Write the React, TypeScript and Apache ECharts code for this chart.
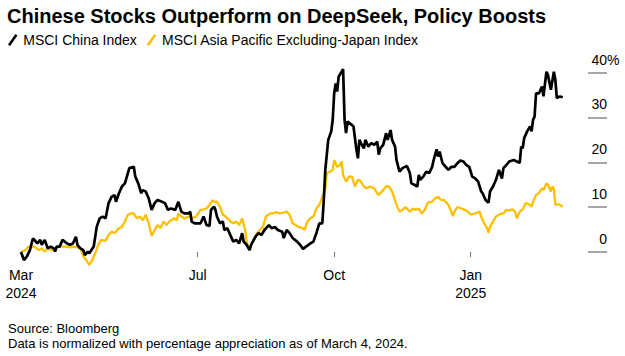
import React, { useEffect, useRef } from "react";
import * as echarts from "echarts";

const TITLE = "Chinese Stocks Outperform on DeepSeek, Policy Boosts";
const SOURCE_LINES = [
  "Source: Bloomberg",
  "Data is normalized with percentage appreciation as of March 4, 2024.",
];
const SERIES_NAMES = ["MSCI China Index", "MSCI Asia Pacific Excluding-Japan Index"];

// Days since March 4, 2024 and % appreciation
const chinaDay = [
  0, 2, 4, 6, 8, 9, 11, 13, 14, 16, 18, 20, 22, 23, 24, 26, 28, 31, 33, 35, 37, 38, 40, 42, 43, 45, 46, 49,
  51, 53, 55, 57, 59, 61, 63, 64, 66, 68, 70, 72, 73, 76, 77, 79, 81, 82, 84, 86, 88, 90, 92, 95, 97, 99,
  101, 104, 106, 108, 110, 113, 114, 115, 117, 121, 123, 125, 127, 128, 130, 131, 132, 134, 136, 137, 139,
  141, 143, 145, 147, 149, 150, 152, 154, 155, 158, 160, 162, 164, 167, 169, 171, 173, 176, 177, 179, 181,
  183, 186, 188, 190, 192, 195, 197, 199, 201, 203, 204, 205, 207, 209, 210, 211, 212, 213, 214, 216, 217,
  218, 219, 220, 223, 224, 226, 227, 228, 229, 231, 232, 234, 236, 238, 240, 241, 242, 244, 246, 247, 249,
  250, 252, 253, 255, 257, 260, 262, 263, 265, 267, 268, 269, 271, 273, 275, 277, 278, 280, 281, 282, 284,
  285, 288, 290, 292, 294, 296, 298, 300, 302, 304, 306, 308, 310, 311, 313, 315, 316, 318, 320, 322, 324,
  325, 327, 329, 332, 334, 336, 337, 338, 339, 341, 343, 344, 345, 346, 347, 349, 351, 352, 354, 355, 357,
  359, 360, 361, 363, 365,
];
const chinaPct = [
  0, -1.8, -1.0, 0.4, 3.0, 2.7, 1.9, 2.7, 1.6, 2.7, 0.8, 1.2, 0.8, 0.1, 1.2, 1.2, 2.7, 1.9, 1.6, 1.9, 3.4,
  1.6, 0.8, 0.4, -0.7, 0.1, -0.3, 1.2, 5.6, 7.5, 7.9, 7.5, 10.9, 12.3, 12.7, 11.2, 13.1, 14.6, 15.3, 17.6,
  18.7, 19.0, 16.8, 15.3, 13.1, 13.8, 13.5, 12.0, 9.4, 10.9, 11.6, 11.2, 10.9, 9.4, 9.7, 9.4, 11.2, 9.0,
  8.6, 8.6, 9.0, 6.8, 6.4, 6.4, 7.9, 6.0, 5.8, 9.4, 10.1, 9.4, 7.9, 6.4, 6.8, 4.9, 5.3, 3.8, 2.3, 2.7, 1.9,
  4.2, 2.3, 1.6, 0.4, 1.6, 3.4, 4.2, 3.8, 4.9, 6.0, 5.3, 5.6, 4.9, 4.5, 3.1, 4.9, 4.2, 3.1, 2.3, 1.6, 0.7,
  1.2, 1.9, 2.3, 4.2, 6.4, 6.4, 11.6, 18.3, 25.0, 26.9, 29.5, 35.4, 37.6, 35.8, 39.1, 40.2, 40.8, 29.5,
  26.5, 29.1, 28.3, 28.0, 22.8, 20.9, 25.0, 24.3, 23.1, 25.0, 23.5, 24.3, 23.9, 24.6, 21.7, 23.1, 23.9,
  26.5, 25.0, 27.2, 25.0, 23.5, 20.5, 17.9, 18.7, 19.2, 17.6, 15.3, 15.0, 14.6, 17.2, 16.1, 16.8, 17.9,
  17.6, 19.0, 20.5, 22.9, 21.3, 22.4, 19.8, 19.4, 18.3, 19.0, 19.0, 19.8, 20.4, 20.2, 19.4, 19.0, 16.8,
  16.4, 15.7, 13.5, 13.1, 11.6, 11.0, 13.5, 14.6, 16.1, 18.3, 16.4, 18.7, 19.4, 20.2, 20.5, 20.2, 19.9,
  23.5, 23.1, 25.4, 26.9, 28.0, 26.9, 29.5, 30.2, 35.4, 35.4, 36.9, 34.7, 40.2, 39.5, 36.2, 40.2, 38.4,
  34.3, 34.7, 34.5,
];

const asiaDay = [
  0, 3, 5, 7, 9, 12, 14, 16, 18, 21, 23, 26, 30, 33, 36, 40, 42, 44, 46, 48, 50, 52, 54, 57, 59, 61, 63, 66,
  68, 70, 72, 74, 76, 78, 80, 82, 84, 86, 88, 90, 92, 94, 96, 98, 100, 103, 105, 106, 108, 110, 113, 115,
  118, 121, 123, 125, 127, 129, 130, 132, 134, 136, 138, 141, 143, 145, 147, 149, 151, 152, 154, 156, 159,
  161, 163, 165, 168, 170, 172, 174, 177, 179, 181, 183, 185, 187, 190, 191, 193, 195, 197, 199, 201, 203,
  205, 206, 208, 210, 211, 213, 215, 216, 217, 219, 221, 223, 225, 227, 229, 231, 233, 235, 238, 240, 241,
  244, 246, 248, 250, 253, 255, 257, 259, 262, 264, 266, 268, 270, 272, 274, 277, 279, 281, 283, 285, 288,
  289, 291, 292, 294, 297, 299, 301, 303, 306, 309, 310, 312, 314, 315, 316, 318, 320, 323, 325, 327, 329,
  331, 333, 334, 336, 338, 340, 342, 344, 345, 347, 349, 351, 352, 354, 355, 357, 358, 359, 360, 362, 365,
];
const asiaPct = [
  0, 0.4, 1.2, 1.2, 1.2, 0.4, 0.8, 0.1, 0.8, 0.4, 0.8, 1.2, 1.2, 1.0, 1.2, 0.8, -1.0, -1.8, -2.9, -1.8, -0.3,
  1.6, 2.7, 2.5, 3.8, 4.5, 4.2, 5.3, 5.6, 6.8, 8.3, 8.6, 8.6, 7.5, 7.9, 7.1, 8.3, 6.4, 3.6, 4.9, 6.0, 5.3,
  6.8, 6.0, 6.8, 7.5, 7.1, 8.6, 7.9, 7.5, 7.9, 7.5, 7.9, 9.4, 9.5, 9.7, 10.5, 11.5, 11.2, 11.2, 10.1, 8.3,
  7.9, 6.8, 6.4, 6.8, 6.0, 7.5, 4.9, 2.3, 0.4, 2.3, 4.2, 4.9, 5.6, 7.9, 8.6, 8.6, 8.9, 8.6, 8.8, 9.0, 8.3,
  6.4, 6.0, 5.6, 5.3, 4.9, 6.8, 7.5, 7.9, 9.7, 10.5, 12.3, 13.8, 17.6, 17.9, 18.3, 20.5, 19.0, 19.4, 20.2,
  17.2, 15.7, 16.8, 16.8, 14.6, 16.1, 15.7, 14.6, 14.2, 14.6, 14.2, 13.1, 12.7, 13.8, 14.7, 14.6, 13.5,
  10.5, 9.0, 9.4, 10.0, 9.0, 9.7, 9.4, 9.7, 8.6, 9.4, 11.0, 11.2, 12.0, 12.3, 11.6, 11.6, 10.5, 9.7, 8.0,
  9.0, 10.0, 9.7, 9.4, 9.0, 8.3, 8.6, 9.0, 7.9, 6.4, 5.3, 4.3, 5.6, 6.8, 7.9, 8.5, 8.6, 9.4, 9.2, 9.5, 9.0,
  7.5, 9.0, 9.5, 10.9, 10.7, 10.1, 11.2, 12.7, 13.2, 14.2, 13.8, 15.3, 15.0, 13.5, 14.6, 14.2, 10.5, 10.7,
  10.1,
];

const xTickDates = ["2024-03-04", "2024-07-01", "2024-10-01", "2025-01-01"];
const xTickLabels = ["Mar\n2024", "Jul", "Oct", "Jan\n2025"];
const yTicks = [0, 10, 20, 30, 40];
const xRangeDates = ["2024-03-04", "2025-03-21"];

const DAY = 86400000;
const ts = (s: string) => {
  const [y, m, d] = s.split("-").map(Number);
  return Date.UTC(y, m - 1, d);
};
const START = ts("2024-03-04");
const dayOf = (s: string) => Math.round((ts(s) - START) / DAY);

const FONT = "'Liberation Sans', Arial, sans-serif";
const BLACK = "#000000";
const YELLOW = "#FFBF00";

export default function App() {
  const ref = useRef<HTMLDivElement>(null);
  useEffect(() => {
    if (!ref.current) return;
    const chart = echarts.init(ref.current, null, { renderer: "svg" });
    const tickDays = xTickDates.map(dayOf);
    const china = chinaDay.map((d, i) => [d, chinaPct[i]]);
    const asia = asiaDay.map((d, i) => [d, asiaPct[i]]);
    const yLabelBase = {
      fontFamily: FONT,
      fontSize: 14,
      color: "#000",
      verticalAlign: "bottom" as const,
      padding: [0, 0, 6, 0],
      margin: 19,
      customValues: yTicks,
    };
    chart.setOption({
      animation: false,
      title: [
        {
          text: TITLE,
          left: 2,
          top: 1,
          textStyle: { fontFamily: FONT, fontSize: 20, fontWeight: "bold", color: "#000" },
        },
        {
          text: SOURCE_LINES.join("\n"),
          left: 3,
          top: 316,
          textStyle: { fontFamily: FONT, fontSize: 13, fontWeight: "normal", color: "#000", lineHeight: 15 },
        },
      ],
      legend: {
        data: SERIES_NAMES,
        left: 8,
        top: 33,
        padding: 0,
        itemWidth: 11,
        itemHeight: 12,
        itemGap: 10,
        icon: "path://M0,10L7,0L9,1.4L2,11.4Z",
        textStyle: { fontFamily: FONT, fontSize: 14, color: "#000" },
      },
      grid: { left: 21, right: 37, top: 63.7, height: 206.2, containLabel: false },
      xAxis: {
        type: "value",
        position: "bottom",
        offset: -17.9,
        min: dayOf(xRangeDates[0]),
        max: dayOf(xRangeDates[1]),
        axisLine: { show: false, onZero: false },
        axisTick: { show: true, length: 5, lineStyle: { color: "#777", width: 1 }, customValues: tickDays },
        splitLine: { show: false },
        axisLabel: {
          customValues: tickDays,
          margin: 14,
          fontFamily: FONT,
          fontSize: 14,
          lineHeight: 18,
          color: "#000",
          formatter: (v: number) => {
            const i = tickDays.indexOf(v);
            return i >= 0 ? xTickLabels[i] : "";
          },
        },
      },
      yAxis: [
        {
          type: "value",
          position: "right",
          min: -4,
          max: 42,
          axisLine: { show: false, onZero: false },
          splitLine: { show: false },
          axisTick: { show: true, length: 19, lineStyle: { color: "#888", width: 1.5 }, customValues: yTicks },
          axisLabel: { ...yLabelBase, align: "right", formatter: (v: number) => String(v) },
        },
        {
          type: "value",
          position: "right",
          min: -4,
          max: 42,
          axisLine: { show: false, onZero: false },
          splitLine: { show: false },
          axisTick: { show: false },
          axisLabel: {
            ...yLabelBase,
            customValues: [40],
            align: "left",
            formatter: (v: number) => (v === 40 ? "%" : ""),
          },
        },
      ],
      series: [
        {
          name: SERIES_NAMES[1],
          type: "line",
          data: asia,
          showSymbol: false,
          color: YELLOW,
          lineStyle: { color: YELLOW, width: 2.3 },
          z: 2,
        },
        {
          name: SERIES_NAMES[0],
          type: "line",
          data: china,
          showSymbol: false,
          color: BLACK,
          lineStyle: { color: BLACK, width: 2.7 },
          z: 3,
        },
      ],
    });
    return () => chart.dispose();
  }, []);
  return <div ref={ref} style={{ width: 625, height: 356, position: "absolute", left: 0, top: 0 }} />;
}
